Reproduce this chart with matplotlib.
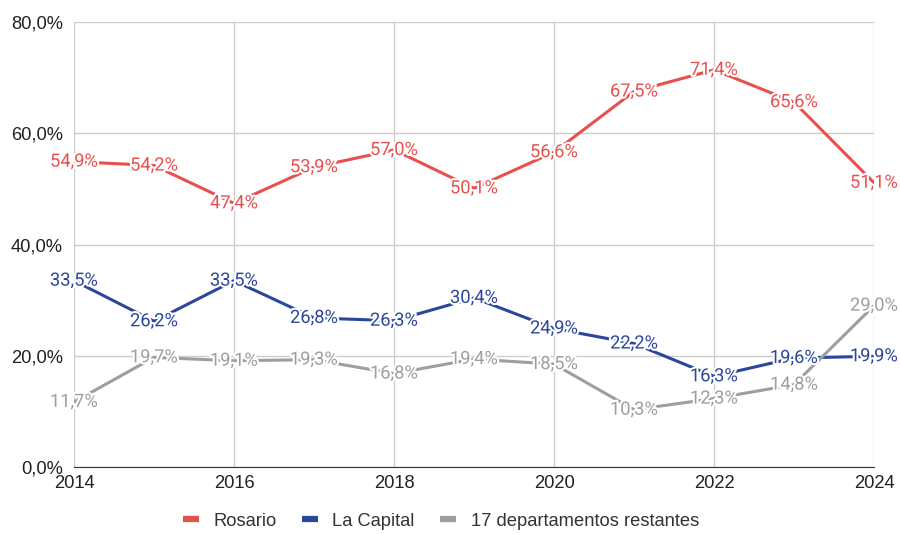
import matplotlib.pyplot as plt
import matplotlib.patheffects as pe
from matplotlib.ticker import FuncFormatter, MultipleLocator

plt.rcParams['font.family'] = ['Liberation Sans', 'DejaVu Sans']

years = [2014, 2015, 2016, 2017, 2018, 2019, 2020, 2021, 2022, 2023, 2024]
rosario = [54.9, 54.2, 47.4, 53.9, 57.0, 50.1, 56.6, 67.5, 71.4, 65.6, 51.1]
la_capital = [33.5, 26.2, 33.5, 26.8, 26.3, 30.4, 24.9, 22.2, 16.3, 19.6, 19.9]
restantes = [11.7, 19.7, 19.1, 19.3, 16.8, 19.4, 18.5, 10.3, 12.3, 14.8, 29.0]

series = [
    ("Rosario", rosario, "#e8504e"),
    ("La Capital", la_capital, "#2a479c"),
    ("17 departamentos restantes", restantes, "#9e9e9e"),
]

def pct(v):
    return f"{v:.1f}%".replace(".", ",")

fig = plt.figure(figsize=(9, 5.34), dpi=100)
ax = fig.add_axes([74 / 900, 1 - 467 / 534, 800 / 900, 445 / 534])

for name, vals, col in series:
    ax.plot(years, vals, color=col, lw=2.2, label=name, zorder=3)

# labels drawn after all lines so the halos sit on top
for name, vals, col in series:
    for x, v in zip(years, vals):
        ax.text(x, v, pct(v), color=col, fontsize=13.2, ha="center", va="center", zorder=5,
                family=["Roboto", "DejaVu Sans"],
                path_effects=[pe.withStroke(linewidth=3, foreground="white")])

ax.set_xlim(2014, 2024)
ax.set_ylim(0, 80)
ax.xaxis.set_major_locator(MultipleLocator(2))
ax.yaxis.set_major_locator(MultipleLocator(20))
ax.yaxis.set_major_formatter(FuncFormatter(lambda v, p: pct(v)))
ax.grid(True, color="#cccccc", lw=1)
ax.set_axisbelow(True)
for s in ["top", "right", "left"]:
    ax.spines[s].set_visible(False)
ax.spines["bottom"].set_color("#333333")
ax.tick_params(length=0, labelsize=13.2, colors="#222222")
ax.tick_params(axis="y", pad=8)
ax.tick_params(axis="x", pad=6)

handles, labels = ax.get_legend_handles_labels()
leg = fig.legend(handles, labels, loc="center", bbox_to_anchor=(441 / 900, 1 - 521 / 534),
                 ncol=3, frameon=False, fontsize=13.2, handlelength=0.85,
                 handletextpad=0.8, columnspacing=1.4, labelcolor="#333333")
for h in leg.get_lines():
    h.set_linewidth(4.5)
    h.set_solid_capstyle("butt")

fig.savefig("out.png", dpi=100)
